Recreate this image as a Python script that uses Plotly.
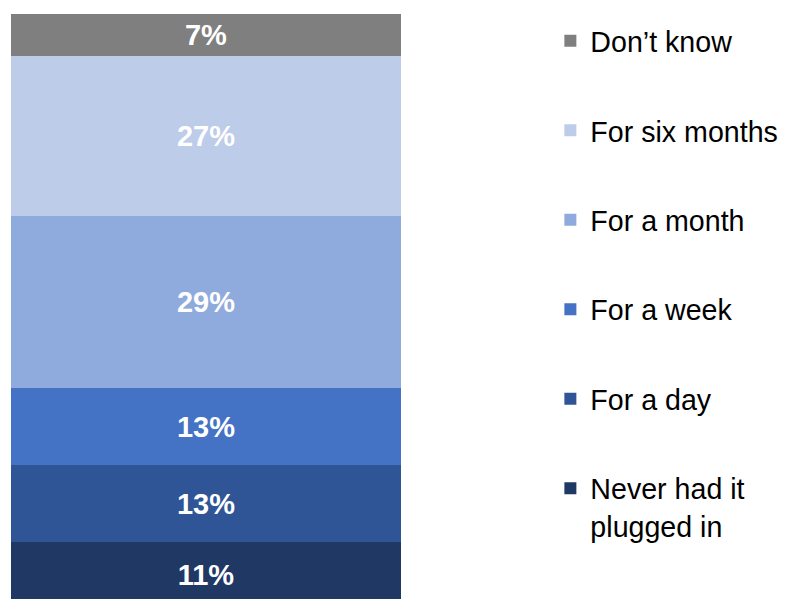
import plotly.graph_objects as go

categories = ["All"]
series_names = ["Never had it<br>plugged in", "For a day", "For a week",
                "For a month", "For six months", "Don\u2019t know"]
series_values = [11, 13, 13, 29, 27, 7]
bar_colors = ["#203864", "#2F5597", "#4472C4", "#8FAADC", "#BDCCE9", "#7F7F7F"]

fig = go.Figure()
n = len(series_names)
for i, (name, val, col) in enumerate(zip(series_names, series_values, bar_colors)):
    fig.add_trace(go.Bar(
        x=categories, y=[val], name=name,
        marker=dict(color=col, line=dict(width=0)),
        text=[f"{val}%"], textposition="inside", insidetextanchor="middle",
        textfont=dict(family="Liberation Sans, Arial, sans-serif", size=29, color="white"),
        texttemplate="<b>%{text}</b>",
        legendgroup=f"g{i}", legendrank=n - i, hoverinfo="skip",
    ))

fig.update_layout(
    width=787, height=599,
    barmode="stack", bargap=0,
    margin=dict(l=3, r=394, t=6, b=0, autoexpand=False),
    paper_bgcolor="white", plot_bgcolor="white",
    xaxis=dict(visible=False),
    yaxis=dict(visible=False, range=[0, 100]),
    showlegend=True,
    uniformtext=dict(mode="show", minsize=10),
    legend=dict(
        x=1.383, xanchor="left", y=0.997, yanchor="top",
        traceorder="grouped", tracegroupgap=49.3,
        valign="top",
        font=dict(family="Liberation Sans, Arial, sans-serif", size=28.6, color="black"),
        bgcolor="rgba(0,0,0,0)",
    ),
)

fig.write_html("out.html")
